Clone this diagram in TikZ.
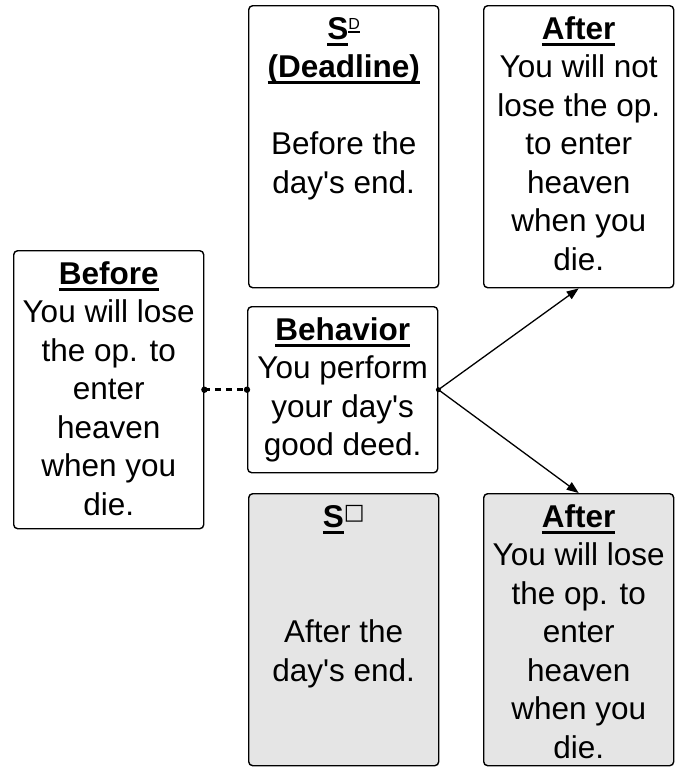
\documentclass[tikz,border=0pt]{standalone}
\usepackage{fontspec}
\setmainfont{Liberation Sans}[Ligatures=TeXOff]
\newfontfamily\djv{DejaVu Sans}
\usetikzlibrary{arrows.meta}
\newsavebox\ulxbox
\newcommand\ulx[1]{\sbox\ulxbox{#1}\rlap{\rule[-6.5pt]{\wd\ulxbox}{3pt}}\usebox\ulxbox}
\newcommand\ulsmall[1]{\sbox\ulxbox{#1}\rlap{\rule[-3.5pt]{\wd\ulxbox}{1.5pt}}\usebox\ulxbox}
\newcommand\firstln{\rule{0pt}{34pt}}
\tikzset{
  box/.style={draw=black, line width=1.4pt, rounded corners=4pt, anchor=north west, inner sep=0pt,
    minimum width=190pt, minimum height=#1},
  graybox/.style={box=#1, fill=black!10},
  txt/.style={anchor=north, inner sep=0pt, align=center, font=\fontsize{31.5}{38.5}\selectfont},
  conn/.style={line width=1.3pt, -{Triangle[length=12pt,width=9pt]}},
  dotconn/.style={line width=2.5pt, dash pattern=on 6pt off 5pt},
}
\begin{document}
\begin{tikzpicture}[x=1pt,y=-1pt]
\useasboundingbox (0,0) rectangle (678,772);
% boxes
\node[box=278pt] (before) at (13,250) {};
\node[box=282pt] (sd) at (248,5) {};
\node[box=282pt] (aftertop) at (483,5) {};
\node[box=166pt] (behavior) at (247,306) {};
\node[graybox=272pt] (ssq) at (248,493) {};
\node[graybox=272pt] (afterbot) at (483,493) {};
% texts
\node[txt] (beforetxt) at (before.north) {\firstln\textbf{\ulx{Before}}\\You will lose\\the op. to\\enter\\heaven\\when you\\die.};
\node[txt] (sdtxt) at (sd.north) {\firstln\textbf{\ulx{S}}\raisebox{10pt}{\fontsize{16}{16}\selectfont\ulsmall{D}}\\\textbf{\ulx{(Deadline)}}\\\mbox{}\\Before the\\day's end.};
\node[txt] (aftertoptxt) at (aftertop.north) {\firstln\textbf{\ulx{After}}\\You will not\\lose the op.\\to enter\\heaven\\when you\\die.};
\node[txt] (behaviortxt) at (behavior.north) {\firstln\textbf{\ulx{Behavior}}\\You perform\\your day's\\good deed.};
\node[txt] (ssqtxt) at (ssq.north) {\firstln\textbf{\ulx{S}}\raisebox{8pt}{\fontsize{22}{22}\selectfont\djv □}\\\mbox{}\\\mbox{}\\After the\\day's end.};
\node[txt] (afterbottxt) at (afterbot.north) {\firstln\textbf{\ulx{After}}\\You will lose\\the op. to\\enter\\heaven\\when you\\die.};
% connectors
\draw[dotconn] (before.east) -- (behavior.west);
\fill (before.east) circle (3.2pt);
\fill (behavior.west) circle (3.2pt);
\draw[conn] (behavior.east) -- (aftertop.south);
\draw[conn] (behavior.east) -- (afterbot.north);
\fill (behavior.east) circle (2.5pt);
\end{tikzpicture}
\end{document}
